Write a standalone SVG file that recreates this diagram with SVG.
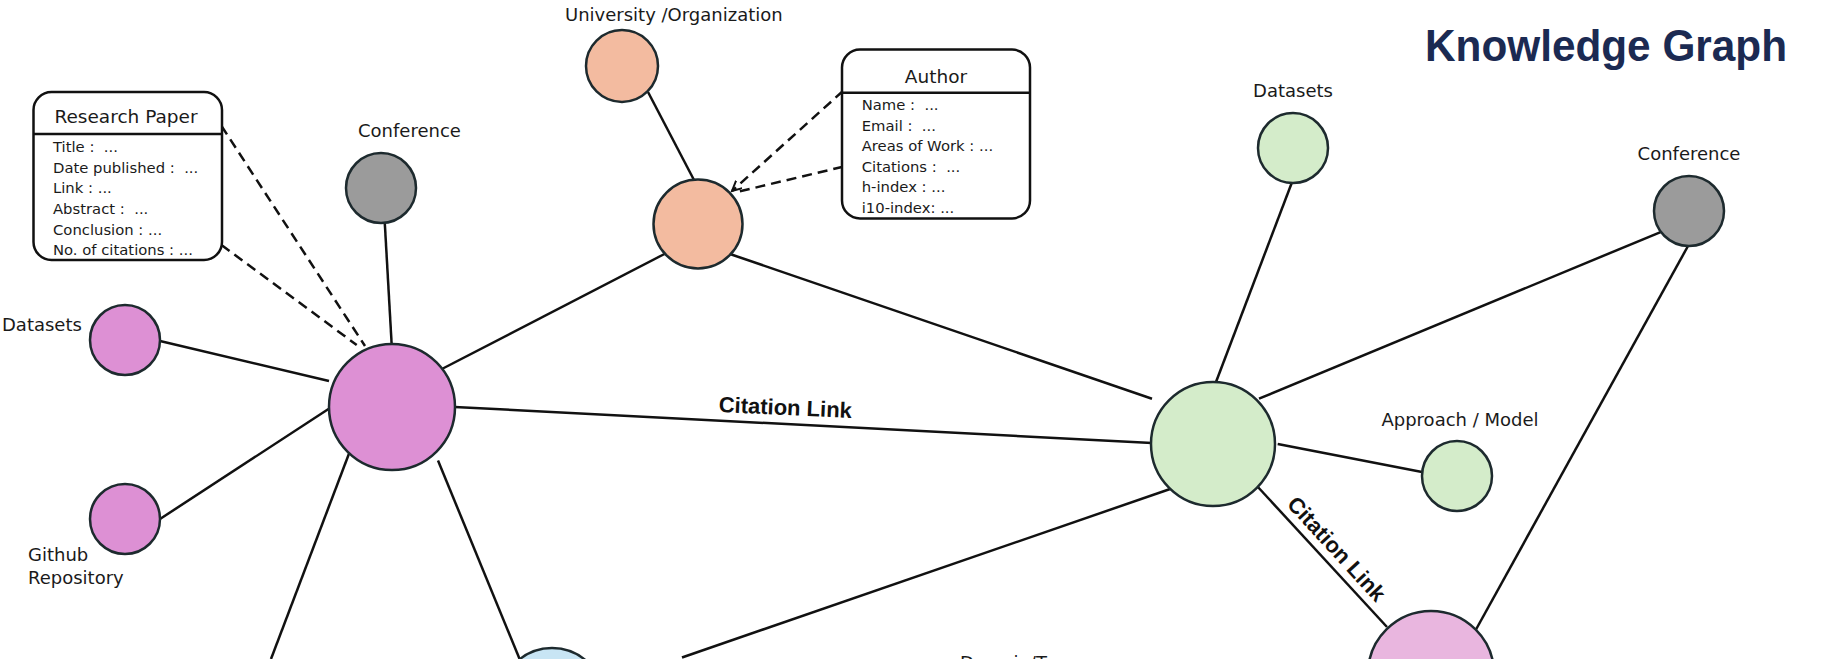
<svg xmlns="http://www.w3.org/2000/svg" width="1828" height="659" viewBox="0 0 1828 659">
<style>
.ln{stroke:#111;stroke-width:2.5;fill:none}
.dash{stroke:#111;stroke-width:2.5;fill:none;stroke-dasharray:10 6}
.nd{stroke:#1d2a2e;stroke-width:2.5}
.pink{fill:#dd90d4}
.pink2{fill:#e9b6df}
.gray{fill:#9b9b9b}
.orange{fill:#f3bba0}
.green{fill:#d4ecca}
.blue{fill:#c8e5f4}
.lbl{font-family:"DejaVu Sans","Liberation Sans",sans-serif;font-size:18px;fill:#1a1a1a}
.row{font-family:"DejaVu Sans","Liberation Sans",sans-serif;font-size:14.8px;fill:#1a1a1a;white-space:pre}
.hdr{font-family:"DejaVu Sans","Liberation Sans",sans-serif;font-size:18.5px;fill:#1a1a1a}
.cl{font-family:"Liberation Sans",Arial,sans-serif;font-size:22px;font-weight:bold;fill:#111}
.box{fill:#fff;stroke:#111;stroke-width:2.5}
</style>
<defs>
<marker id="openArrow" markerWidth="12" markerHeight="12" refX="10" refY="5" orient="auto" markerUnits="userSpaceOnUse">
<path d="M0,0 L10,5 L0,10" fill="none" stroke="#111" stroke-width="2"/>
</marker>
</defs>
<rect width="1828" height="659" fill="#fff"/>
<text x="1425" y="61" textLength="362" lengthAdjust="spacingAndGlyphs" font-family="Liberation Sans, Arial, sans-serif" font-size="45" font-weight="bold" fill="#1b2a52">Knowledge Graph</text>
<g id="connectors">
<line class="ln" x1="384.7" y1="221.5" x2="391.7" y2="345"/>
<line class="ln" x1="160" y1="341" x2="329" y2="381"/>
<line class="ln" x1="160" y1="519" x2="330" y2="408"/>
<line class="ln" x1="648" y1="92" x2="694" y2="180"/>
<line class="ln" x1="664.5" y1="254" x2="438" y2="371"/>
<line class="ln" x1="730" y1="254" x2="1152" y2="398.7"/>
<line class="ln" x1="454.7" y1="407" x2="1152" y2="443"/>
<line class="ln" x1="350" y1="451" x2="271" y2="659"/>
<line class="ln" x1="438" y1="460.5" x2="520" y2="660"/>
<line class="ln" x1="682" y1="657.5" x2="1171.6" y2="488.5"/>
<line class="ln" x1="1291.7" y1="183" x2="1216" y2="382"/>
<line class="ln" x1="1663.6" y1="230.8" x2="1259" y2="398.7"/>
<line class="ln" x1="1688" y1="246" x2="1476" y2="629.5"/>
<line class="ln" x1="1277.7" y1="444" x2="1422" y2="472"/>
<line class="ln" x1="1257" y1="486" x2="1387" y2="627"/>
<line class="dash" x1="221.5" y1="126" x2="365" y2="346"/>
<line class="dash" x1="221.5" y1="245" x2="356.7" y2="345"/>
<line class="dash" x1="843" y1="91" x2="732" y2="191" marker-end="url(#openArrow)"/>
<line class="dash" x1="843" y1="166.7" x2="737" y2="192"/>
<text class="cl" x="785" y="415" text-anchor="middle" transform="rotate(2.6 785 415)">Citation Link</text>
<text class="cl" x="1331" y="554" text-anchor="middle" transform="rotate(47.5 1331 554)">Citation Link</text>
</g>
<g id="research-paper-node">
<circle class="nd pink" cx="392" cy="407" r="63"/>
</g>
<g id="research-paper-box">
<rect class="box" x="33.5" y="92" width="188.5" height="168" rx="18"/>
<line class="ln" x1="33.5" y1="134" x2="222" y2="134"/>
<text class="hdr" x="126" y="123" text-anchor="middle">Research Paper</text>
<text class="row" x="53" y="152" xml:space="preserve">Title :  ...</text>
<text class="row" x="53" y="172.7" xml:space="preserve">Date published :  ...</text>
<text class="row" x="53" y="193" xml:space="preserve">Link : ...</text>
<text class="row" x="53" y="214" xml:space="preserve">Abstract :  ...</text>
<text class="row" x="53" y="234.5" xml:space="preserve">Conclusion : ...</text>
<text class="row" x="53" y="255" xml:space="preserve">No. of citations : ...</text>
</g>
<g id="conference-left">
<circle class="nd gray" cx="381" cy="188" r="35"/>
<text class="lbl" x="358" y="137">Conference</text>
</g>
<g id="datasets-left">
<circle class="nd pink" cx="125" cy="340" r="35"/>
<text class="lbl" x="2" y="331">Datasets</text>
</g>
<g id="github">
<circle class="nd pink" cx="125" cy="519" r="35"/>
<text class="lbl" x="28" y="561">Github</text>
<text class="lbl" x="28" y="584">Repository</text>
</g>
<g id="university">
<circle class="nd orange" cx="622" cy="66" r="36"/>
<text class="lbl" x="565" y="21">University /Organization</text>
</g>
<g id="author-node">
<circle class="nd orange" cx="698" cy="224" r="44.5"/>
</g>
<g id="author-box">
<rect class="box" x="842" y="49.5" width="188" height="169" rx="18"/>
<line class="ln" x1="842" y1="92.7" x2="1030" y2="92.7"/>
<text class="hdr" x="936" y="83.3" text-anchor="middle">Author</text>
<text class="row" x="861.7" y="110" xml:space="preserve">Name :  ...</text>
<text class="row" x="861.7" y="130.7" xml:space="preserve">Email :  ...</text>
<text class="row" x="861.7" y="151" xml:space="preserve">Areas of Work : ...</text>
<text class="row" x="861.7" y="171.7" xml:space="preserve">Citations :  ...</text>
<text class="row" x="861.7" y="192.3" xml:space="preserve">h-index : ...</text>
<text class="row" x="861.7" y="213" xml:space="preserve">i10-index: ...</text>
</g>
<g id="green-main">
<circle class="nd green" cx="1213" cy="444" r="62"/>
</g>
<g id="datasets-right">
<circle class="nd green" cx="1293" cy="148" r="35"/>
<text class="lbl" x="1293" y="97" text-anchor="middle">Datasets</text>
</g>
<g id="conference-right">
<circle class="nd gray" cx="1689" cy="211" r="35"/>
<text class="lbl" x="1689" y="160" text-anchor="middle">Conference</text>
</g>
<g id="approach">
<circle class="nd green" cx="1457" cy="476" r="35"/>
<text class="lbl" x="1460" y="426" text-anchor="middle">Approach / Model</text>
</g>
<g id="pink-bottom-right">
<circle class="nd pink2" cx="1431" cy="674" r="63"/>
</g>
<g id="blue-bottom">
<circle class="nd blue" cx="552" cy="700" r="52"/>
</g>
<g id="domain-label">
<text class="lbl" x="960" y="668.5">Domain/T</text>
</g>
</svg>
